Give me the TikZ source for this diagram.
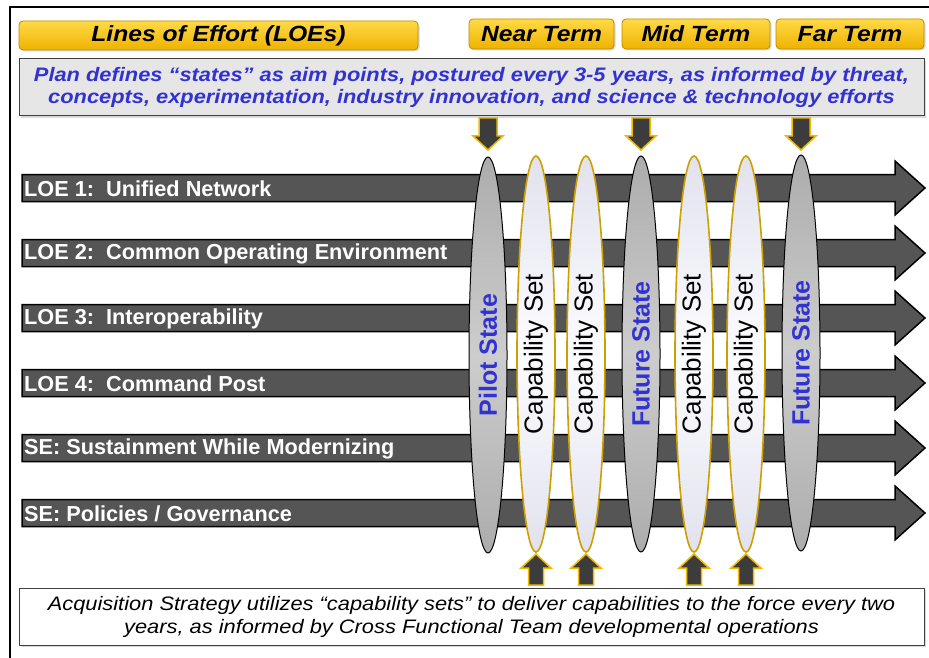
\documentclass[tikz,border=0pt]{standalone}
\usepackage{fontspec}
\setmainfont{Liberation Sans}
\newfontfamily\widefont{Liberation Sans}[FakeStretch=1.12]
\usetikzlibrary{shapes.geometric,shadows}
\definecolor{ytop}{RGB}{255,218,70}
\definecolor{ybot}{RGB}{238,178,0}
\definecolor{ybord}{RGB}{190,140,0}
\definecolor{gold}{RGB}{240,185,0}
\definecolor{capedge}{RGB}{205,160,0}
\definecolor{planblue}{RGB}{50,50,210}
\definecolor{planfill}{RGB}{230,230,230}
\definecolor{barfill}{RGB}{85,85,85}
\definecolor{arrfill}{RGB}{60,60,60}
\definecolor{grayedge}{RGB}{172,172,172}
\definecolor{graymid}{RGB}{205,205,205}
\definecolor{capside}{RGB}{226,226,238}
\definecolor{capmid}{RGB}{252,252,255}
\begin{document}
\begin{tikzpicture}[x=1pt,y=-1pt,
  yelbox/.style={rectangle, rounded corners=4pt, draw=ybord, line width=0.8pt,
    top color=ytop, bottom color=ybot, inner sep=0pt,
    drop shadow={opacity=0.3, shadow xshift=1.5pt, shadow yshift=-1.5pt},
    font=\widefont\fontsize{22}{26}\selectfont\bfseries\itshape},
  infobox/.style={rectangle, draw=black!75, line width=1pt, inner sep=0pt, align=center,
    drop shadow={opacity=0.3, shadow xshift=2pt, shadow yshift=-2pt},
    minimum width=905pt, minimum height=57pt},
  bar/.style={fill=barfill, draw=black, line width=1.5pt, line join=miter},
  loetext/.style={text=white, inner sep=0pt, anchor=west,
    font=\fontsize{21.7}{24}\selectfont\bfseries},
  graylens/.style={ellipse, rotate=90, draw=black, line width=1pt,
    top color=grayedge, bottom color=grayedge, middle color=graymid,
    minimum width=396pt, minimum height=38pt, inner sep=0pt,
    text=planblue, font=\fontsize{25}{28}\selectfont\bfseries},
  caplens/.style={ellipse, rotate=90, draw=capedge, line width=1.6pt,
    top color=capside, bottom color=capside, middle color=capmid,
    minimum width=396pt, minimum height=38pt, inner sep=0pt,
    text=black, font=\fontsize{26}{28}\selectfont},
  blkarrow/.style={fill=arrfill, draw=gold, line width=1.5pt, line join=miter}
]
\useasboundingbox (0,0) rectangle (929,658);
% outer frame
\coordinate (fbl) at (10,660);
\coordinate (ftl) at (10,7);
\coordinate (ftr) at (931,7);
\draw[line width=1.5pt] (fbl) -- (ftl) -- (ftr);

% header boxes
\node[yelbox, minimum width=399pt, minimum height=29pt] (loe) at (218.5,35.5) {Lines of Effort (LOEs)};
\node[yelbox, minimum width=145pt, minimum height=30pt] (near) at (541.5,34) {Near Term};
\node[yelbox, minimum width=148pt, minimum height=30pt] (mid) at (696,34) {Mid Term};
\node[yelbox, minimum width=148pt, minimum height=30pt] (far) at (850,34) {Far Term};

% plan box
\node[infobox, fill=planfill, text=planblue,
  font=\widefont\fontsize{19.5}{22.5}\selectfont\bfseries\itshape] (plan) at (471.5,87.5)
  {Plan defines “states” as aim points, postured every 3-5 years, as informed by threat,\\
   concepts, experimentation, industry innovation, and science \& technology efforts};

% down arrows
\foreach \x in {488,641,801}{
  \draw[blkarrow] (\x-9,118) -- (\x+9,118) -- (\x+9,136) -- (\x+15,136) -- (\x,150)
     -- (\x-15,136) -- (\x-9,136) -- cycle;
}

% LOE bars
\foreach \c/\t/\n in {188/{LOE 1:\ \ Unified Network}/l1,
                      253/{LOE 2:\ \ Common Operating Environment}/l2,
                      318/{LOE 3:\ \ Interoperability}/l3,
                      383/{LOE 4:\ \ Command Post}/l4,
                      448/{SE: Sustainment While Modernizing}/l5,
                      513/{SE: Policies / Governance}/l6}{
  \draw[bar] (22,\c-13.5) -- (895,\c-13.5) -- (895,\c-27) -- (925,\c) -- (895,\c+27)
     -- (895,\c+13.5) -- (22,\c+13.5) -- cycle;
  \node[loetext] (\n) at (24,\c+1) {\t};
}

% lenses
\node[graylens] (pilot) at (488,355) {Pilot State};
\node[caplens] (cs1) at (536,354) {Capability Set};
\node[caplens] (cs2) at (586,354) {Capability Set};
\node[graylens] (fs1) at (641,354) {Future State};
\node[caplens] (cs3) at (694,354) {Capability Set};
\node[caplens] (cs4) at (746,354) {Capability Set};
\node[graylens] (fs2) at (801,353) {Future State};

% up arrows
\foreach \x in {536,586,694,746}{
  \draw[blkarrow] (\x,554) -- (\x+15,568) -- (\x+7.5,568) -- (\x+7.5,585)
     -- (\x-7.5,585) -- (\x-7.5,568) -- (\x-15,568) -- cycle;
}

% bottom box
\node[infobox, fill=white, text=black,
  font=\widefont\fontsize{19.5}{23}\selectfont\itshape] (acq) at (471.5,616.5)
  {Acquisition Strategy utilizes “capability sets” to deliver capabilities to the force every two\\
   years, as informed by Cross Functional Team developmental operations};
\end{tikzpicture}
\end{document}
